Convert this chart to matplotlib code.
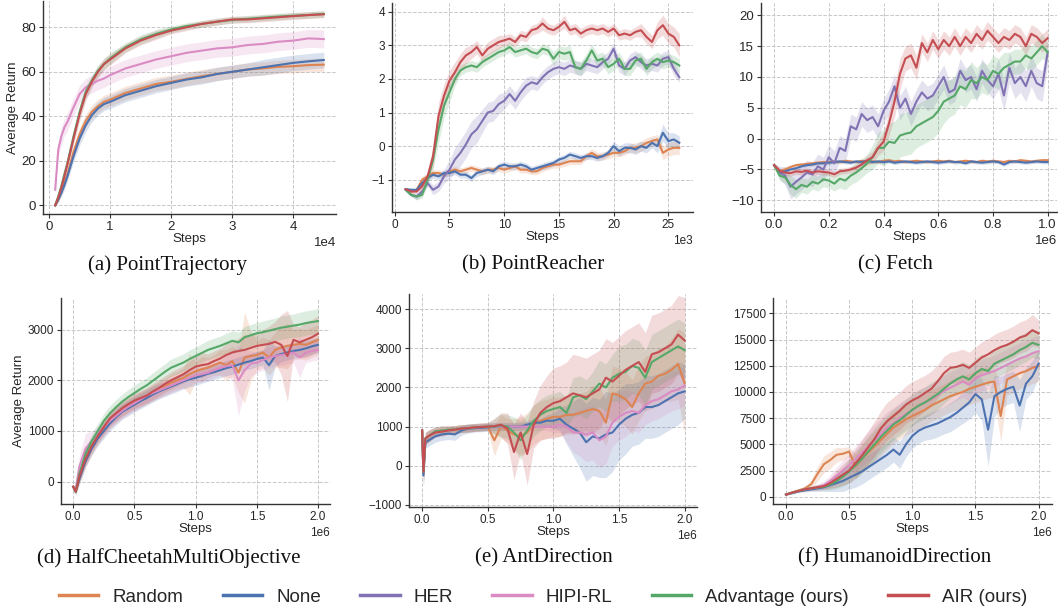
import matplotlib.pyplot as plt
import numpy as np
from matplotlib.lines import Line2D
from matplotlib.ticker import MultipleLocator

plt.rcParams['font.family'] = ['Liberation Sans', 'DejaVu Sans']

methods = ['Random', 'None', 'HER', 'HIPI-RL', 'Advantage (ours)', 'AIR (ours)']
colors = {'Random': '#DD8452', 'None': '#4C72B0', 'HER': '#8172B3',
          'HIPI-RL': '#DA8BC3', 'Advantage (ours)': '#55A868', 'AIR (ours)': '#C44E52'}

# ---------------- (a) PointTrajectory ----------------
x_a = [1000, 1500, 2000, 2500, 3000, 4000, 5000, 6000, 7000, 8000, 9000, 10000, 12500,
       15000, 17500, 20000, 22500, 25000, 27500, 30000, 32500, 35000, 37500, 40000, 42500, 45000]
rand_a = [0, 2.5, 6, 10, 14, 24, 32, 38, 42, 44.5, 46.5, 47.5, 50.5, 52.5, 54.5, 55.5, 56.8,
          58, 59, 60, 61, 61.5, 62.2, 62.5, 63, 63.2]
none_a = [0, 2.5, 5.5, 9, 13, 22, 30, 36, 40.5, 43.5, 45.5, 46.5, 49.5, 51.5, 53.5, 55, 56.5,
          57.5, 59, 60, 61, 62, 63, 64, 64.7, 65.3]
hipi_a = [7, 25, 31, 35, 37.5, 44, 50, 53, 54.5, 56, 57, 58.5, 61.5, 63.5, 65.5, 67, 68.5,
          69.5, 70.5, 71, 72, 72.5, 73.5, 74, 75, 74.7]
adv_a = [0, 4, 8.5, 14, 19, 31, 42, 51, 56, 60.5, 63.5, 66, 71, 74.5, 77, 79, 80.5, 81.5,
         82.5, 83.3, 83.8, 84.3, 84.8, 85.2, 85.5, 86]
air_a = [0, 3.5, 8, 13, 18.5, 30, 41, 50, 55.5, 60, 63.5, 65.5, 70.5, 74, 76.5, 78.5, 80,
         81.5, 82.5, 83.5, 83.5, 84, 84.5, 85, 85.5, 85.8]
sd_rand_a = [0.5, 1, 1.5, 2, 2, 2.5, 3, 3, 3, 3, 3, 3, 3, 3, 3, 3, 3, 3, 3, 3, 3, 3, 3, 3, 3, 3]
sd_none_a = [0.5, 1, 1.5, 2, 2, 2.5, 3, 3, 3, 3, 3, 3, 3, 3, 3, 3, 3, 3, 3, 3, 3, 3.5, 3.5, 3.5, 3.5, 3.5]
sd_hipi_a = [1, 3, 4, 4, 4, 4, 4, 4, 4, 4, 4, 4, 4, 4, 4, 4, 4, 4, 4, 4, 4, 4, 4, 4, 4, 4]
sd_adv_a = [0.5, 1, 1.5, 2, 2, 2.5, 3, 3, 2.5, 2.5, 2.5, 2.5, 2, 2, 2, 1.5, 1.5, 1.5, 1.5,
            1.5, 1.5, 1.5, 1.5, 1.5, 1.5, 1.5]
sd_air_a = [0.5, 1, 1.5, 2, 2, 2.5, 3, 3, 2.5, 2.5, 2.5, 2.5, 2, 2, 2, 1.5, 1.5, 1.5, 1.5,
            1.5, 1.5, 1.5, 1.5, 1.5, 1.5, 1.5]

# ---------------- (b) PointReacher ----------------
x_b = np.arange(1000, 26001, 500)
rand_b = [-1.28, -1.35, -1.3, -1.0, -0.9, -0.8, -0.8, -0.85, -0.75, -0.7, -0.75, -0.7, -0.65,
          -0.7, -0.75, -0.7, -0.7, -0.65, -0.7, -0.65, -0.6, -0.7, -0.7, -0.75, -0.75, -0.65,
          -0.6, -0.55, -0.55, -0.5, -0.45, -0.45, -0.45, -0.3, -0.2, -0.3, -0.3, -0.25, -0.2,
          -0.2, -0.15, -0.05, -0.05, 0.0, 0.1, 0.15, 0.2, -0.2, -0.1, -0.05, -0.05]
none_b = [-1.28, -1.3, -1.3, -1.1, -0.95, -0.85, -0.9, -0.8, -0.8, -0.75, -0.85, -0.85, -0.95,
          -0.8, -0.75, -0.7, -0.75, -0.6, -0.55, -0.6, -0.6, -0.55, -0.6, -0.7, -0.65, -0.6,
          -0.55, -0.5, -0.4, -0.35, -0.25, -0.3, -0.35, -0.3, -0.3, -0.35, -0.3, -0.2, 0.0,
          -0.15, -0.05, -0.05, -0.1, 0.0, -0.05, 0.1, 0.0, 0.4, 0.15, 0.2, 0.1]
her_b = [-1.3, -1.45, -1.5, -1.35, -1.1, -1.3, -1.2, -0.9, -0.7, -0.4, -0.2, 0.05, 0.35, 0.5,
         0.75, 1.0, 1.05, 1.25, 1.35, 1.55, 1.35, 1.6, 1.8, 1.9, 1.85, 2.05, 2.2, 2.3, 2.35,
         2.3, 2.4, 2.35, 2.3, 2.45, 2.4, 2.35, 2.5, 2.6, 2.9, 2.4, 2.3, 2.55, 2.65, 2.5, 2.4,
         2.45, 2.4, 2.6, 2.65, 2.3, 2.05]
adv_b = [-1.3, -1.45, -1.5, -1.45, -1.0, -0.4, 0.5, 1.2, 1.6, 2.0, 2.25, 2.35, 2.4, 2.35, 2.5,
         2.6, 2.7, 2.8, 2.85, 2.95, 2.8, 2.85, 2.9, 2.8, 2.75, 2.9, 2.85, 2.6, 2.8, 2.75, 2.8,
         2.35, 2.3, 2.55, 2.85, 2.55, 2.6, 2.35, 2.45, 2.6, 2.3, 2.3, 2.55, 2.6, 2.3, 2.5, 2.6,
         2.5, 2.55, 2.5, 2.4]
air_b = [-1.28, -1.35, -1.35, -1.2, -0.9, -0.3, 0.9, 1.5, 1.95, 2.2, 2.5, 2.7, 2.8, 2.95, 2.7,
         2.9, 3.0, 3.1, 3.15, 3.2, 3.1, 3.3, 3.25, 3.45, 3.5, 3.65, 3.5, 3.45, 3.55, 3.7, 3.45,
         3.5, 3.35, 3.45, 3.5, 3.45, 3.5, 3.4, 3.5, 3.3, 3.35, 3.3, 3.4, 3.45, 3.25, 3.1, 3.45,
         3.6, 3.35, 3.25, 3.0]
sd_rand_b = [0.05, 0.05, 0.05, 0.1, 0.1, 0.1, 0.1, 0.1, 0.1, 0.1, 0.1, 0.1, 0.1, 0.1, 0.1, 0.1,
             0.1, 0.1, 0.1, 0.1, 0.1, 0.1, 0.1, 0.1, 0.1, 0.1, 0.1, 0.1, 0.1, 0.1, 0.1, 0.1, 0.1,
             0.1, 0.12, 0.12, 0.12, 0.12, 0.12, 0.12, 0.12, 0.12, 0.15, 0.15, 0.15, 0.15, 0.15,
             0.2, 0.2, 0.2, 0.2]
sd_none_b = [0.05, 0.05, 0.05, 0.1, 0.1, 0.1, 0.1, 0.1, 0.1, 0.1, 0.1, 0.1, 0.1, 0.1, 0.1, 0.1,
             0.1, 0.1, 0.1, 0.1, 0.1, 0.1, 0.1, 0.1, 0.1, 0.1, 0.1, 0.1, 0.1, 0.1, 0.1, 0.1, 0.1,
             0.1, 0.1, 0.1, 0.1, 0.1, 0.15, 0.15, 0.15, 0.15, 0.15, 0.15, 0.15, 0.15, 0.2, 0.25,
             0.25, 0.2, 0.2]
sd_her_b = [0.05, 0.05, 0.1, 0.1, 0.1, 0.15, 0.15, 0.2, 0.3, 0.35, 0.4, 0.4, 0.4, 0.4, 0.35,
            0.3, 0.3, 0.3, 0.25, 0.25, 0.25, 0.25, 0.25, 0.2, 0.2, 0.2, 0.2, 0.2, 0.2, 0.2, 0.2,
            0.2, 0.2, 0.2, 0.2, 0.2, 0.2, 0.2, 0.2, 0.2, 0.2, 0.2, 0.2, 0.2, 0.2, 0.2, 0.2, 0.2,
            0.2, 0.2, 0.15]
sd_adv_b = [0.05, 0.05, 0.1, 0.1, 0.15, 0.3, 0.4, 0.35, 0.3, 0.2, 0.15, 0.15, 0.15, 0.15, 0.15,
            0.15, 0.15, 0.15, 0.15, 0.15, 0.15, 0.15, 0.15, 0.15, 0.15, 0.15, 0.15, 0.2, 0.2,
            0.2, 0.2, 0.2, 0.2, 0.2, 0.2, 0.2, 0.2, 0.2, 0.2, 0.2, 0.2, 0.2, 0.2, 0.2, 0.2, 0.2,
            0.2, 0.2, 0.2, 0.2, 0.2]
sd_air_b = [0.05, 0.05, 0.05, 0.1, 0.15, 0.3, 0.4, 0.35, 0.3, 0.3, 0.25, 0.25, 0.2, 0.2, 0.2,
            0.2, 0.2, 0.2, 0.15, 0.15, 0.15, 0.15, 0.15, 0.15, 0.15, 0.2, 0.15, 0.15, 0.15, 0.2,
            0.15, 0.15, 0.15, 0.15, 0.15, 0.15, 0.15, 0.15, 0.15, 0.15, 0.15, 0.15, 0.15, 0.2,
            0.2, 0.2, 0.25, 0.3, 0.3, 0.3, 0.35]

# ---------------- (c) Fetch ----------------
x_c = np.arange(51) * 20000
rand_c = [-4.3, -5.3, -5.0, -4.6, -4.3, -4.2, -4.1, -4.0, -3.9, -3.8, -3.8, -3.7, -3.8, -3.6,
          -3.7, -3.8, -3.6, -3.7, -3.7, -3.8, -3.6, -3.5, -3.7, -3.6, -3.8, -3.7, -3.6, -3.7,
          -3.8, -3.7, -3.6, -3.7, -3.6, -3.8, -3.7, -3.6, -3.7, -3.8, -3.6, -3.7, -3.6, -3.7,
          -3.8, -3.6, -3.7, -3.5, -3.6, -3.7, -3.6, -3.5, -3.5]
none_c = [-4.3, -5.5, -5.3, -5.0, -4.8, -4.5, -4.3, -4.2, -4.0, -4.0, -3.9, -3.8, -3.7, -3.8,
          -3.9, -3.7, -3.8, -3.6, -3.8, -3.7, -3.8, -3.7, -3.9, -3.8, -3.7, -3.8, -3.9, -3.8,
          -3.7, -3.8, -3.9, -3.8, -3.7, -3.8, -3.8, -4.0, -3.7, -3.8, -3.9, -3.8, -3.7, -3.8,
          -4.2, -3.8, -3.7, -3.8, -3.9, -3.8, -3.7, -3.8, -3.8]
her_c = [-4.3, -5.5, -6.0, -7.8, -7.0, -6.3, -5.5, -5.8, -4.5, -5.0, -3.0, -4.0, -1.5, -2.0,
         2.0, 1.5, 4.0, 3.0, 3.5, 2.0, 4.5, 6.0, 8.5, 5.0, 6.5, 4.0, 6.0, 7.5, 6.5, 7.0, 8.5,
         10.0, 7.5, 8.0, 11.0, 9.5, 10.0, 8.0, 11.0, 9.5, 8.5, 10.5, 7.0, 11.5, 9.0, 10.0, 8.5,
         11.0, 9.0, 8.5, 14.0]
adv_c = [-4.3, -6.0, -6.3, -7.5, -8.2, -7.5, -7.8, -7.0, -7.3, -6.6, -6.8, -7.3, -6.5, -6.8,
         -6.0, -5.5, -4.8, -4.0, -3.0, -1.5, -1.5, -0.5, -0.7, 0.5, 0.8, 1.0, 2.0, 2.5, 3.0,
         3.5, 4.5, 6.0, 6.5, 7.0, 8.5, 8.0, 9.5, 9.0, 10.0, 9.5, 11.0, 10.5, 11.5, 12.0, 12.5,
         12.5, 13.5, 13.0, 14.0, 15.0, 14.0]
air_c = [-4.3, -5.2, -5.5, -5.6, -5.3, -5.4, -5.2, -5.5, -5.3, -5.4, -5.5, -5.8, -5.3, -5.2,
         -5.0, -4.7, -4.2, -3.5, -3.0, -1.5, -0.5, 2.5, 6.0, 10.5, 13.0, 13.5, 11.5, 15.5,
         14.0, 16.0, 14.5, 16.0, 15.0, 16.5, 15.0, 16.5, 15.5, 17.0, 16.0, 17.5, 16.5, 15.5,
         16.5, 16.0, 17.0, 16.5, 15.0, 17.0, 16.5, 15.5, 16.3]
sd_flat_c = [0.2, 0.4, 0.4, 0.3, 0.3, 0.3, 0.3, 0.3, 0.3, 0.3, 0.3, 0.3, 0.3, 0.3, 0.3, 0.3,
             0.3, 0.3, 0.3, 0.3, 0.3, 0.3, 0.3, 0.3, 0.3, 0.3, 0.3, 0.3, 0.3, 0.3, 0.3, 0.3, 0.3,
             0.3, 0.3, 0.3, 0.3, 0.3, 0.3, 0.3, 0.3, 0.3, 0.3, 0.3, 0.3, 0.3, 0.3, 0.3, 0.3, 0.3, 0.3]
sd_her_c = [0.3, 1.0, 1.5, 2.0, 2.0, 2.0, 2.0, 2.0, 2.0, 2.0, 2.0, 2.0, 2.0, 2.0, 2.0, 2.0,
            2.0, 2.0, 2.0, 2.0, 2.0, 2.0, 2.0, 2.0, 2.0, 2.0, 2.0, 2.0, 2.0, 2.0, 2.0, 2.0, 2.0,
            2.0, 2.0, 2.0, 2.0, 2.0, 2.0, 2.0, 2.0, 2.5, 2.5, 2.5, 2.5, 2.5, 2.5, 2.5, 2.5, 2.5, 2.0]
sd_adv_c = [0.3, 0.8, 1.0, 1.5, 1.5, 1.2, 1.2, 1.2, 1.2, 1.2, 1.2, 1.2, 1.5, 1.5, 1.5, 1.5,
            1.5, 1.5, 2.0, 2.5, 3.0, 3.0, 3.5, 3.5, 3.5, 3.5, 3.5, 3.5, 3.5, 3.5, 3.5, 3.5, 3.0,
            3.0, 3.0, 3.0, 3.0, 2.5, 2.5, 2.5, 2.5, 2.5, 2.5, 2.0, 2.0, 2.0, 2.0, 2.0, 2.0, 2.0, 1.5]
sd_air_c = [0.3, 0.5, 0.5, 0.5, 0.5, 0.5, 0.5, 0.5, 0.5, 0.5, 0.5, 0.5, 0.5, 0.5, 0.5, 0.6,
            0.6, 0.8, 1.0, 1.2, 1.5, 2.0, 2.5, 2.5, 2.0, 2.0, 2.0, 1.5, 1.5, 1.5, 1.5, 1.5, 1.5,
            1.5, 1.5, 1.5, 1.5, 1.5, 1.5, 1.5, 1.5, 1.5, 1.5, 1.5, 1.5, 1.5, 1.5, 1.5, 1.5, 1.5, 1.5]

# ---------------- (d) HalfCheetahMultiObjective ----------------
x_d = np.r_[0, 20000, np.arange(1, 41) * 50000]
rand_d = [-100, -200, 50, 400, 650, 870, 1050, 1200, 1320, 1420, 1500, 1560, 1620, 1680, 1750,
          1820, 1880, 1950, 2000, 2050, 2120, 2180, 2220, 2250, 2300, 2350, 2300, 2380, 2150,
          2450, 2480, 2500, 2550, 2450, 2600, 2650, 2680, 2700, 2720, 2700, 2750, 2800]
none_d = [-100, -200, 50, 400, 650, 850, 1000, 1150, 1270, 1380, 1450, 1520, 1590, 1650, 1720,
          1780, 1830, 1880, 1930, 1980, 2020, 2050, 2090, 2130, 2160, 2200, 2240, 2270, 2310,
          2350, 2380, 2420, 2450, 2300, 2480, 2520, 2550, 2580, 2600, 2630, 2670, 2700]
hipi_d = [-100, -150, 300, 650, 800, 950, 1080, 1200, 1300, 1400, 1480, 1550, 1620, 1700, 1750,
          1800, 1850, 1900, 1950, 2000, 2050, 2100, 2120, 2150, 2200, 2250, 2280, 2300, 2000,
          2200, 2330, 2350, 2400, 2450, 2480, 2500, 2520, 2550, 2450, 2550, 2580, 2600]
adv_d = [-100, -200, 150, 550, 800, 1000, 1200, 1350, 1470, 1580, 1670, 1750, 1830, 1900, 1990,
         2080, 2170, 2250, 2300, 2350, 2420, 2480, 2540, 2600, 2640, 2680, 2730, 2780, 2750,
         2850, 2890, 2930, 2950, 2980, 3010, 3040, 3060, 3080, 3100, 3130, 3150, 3170]
air_d = [-100, -200, 100, 450, 700, 900, 1080, 1250, 1350, 1450, 1530, 1600, 1650, 1700, 1780,
         1850, 1930, 2000, 2060, 2120, 2200, 2270, 2300, 2320, 2380, 2430, 2500, 2550, 2580,
         2600, 2640, 2680, 2700, 2720, 2760, 2700, 2480, 2800, 2750, 2800, 2850, 2920]
sd_rand_d = [30, 50, 100, 120, 130, 140, 150, 150, 150, 150, 150, 150, 150, 150, 160, 160, 160,
             170, 170, 200, 400, 200, 250, 200, 200, 250, 300, 300, 400, 900, 500, 300, 300, 350,
             350, 400, 450, 300, 300, 300, 300, 300]
sd_none_d = [30, 50, 100, 120, 130, 140, 150, 150, 150, 150, 150, 150, 150, 150, 150, 150, 150,
             150, 150, 150, 150, 150, 150, 150, 150, 150, 150, 150, 150, 150, 150, 150, 150, 500,
             200, 150, 150, 150, 150, 150, 150, 150]
sd_hipi_d = [30, 50, 200, 300, 200, 150, 150, 150, 150, 150, 150, 150, 150, 150, 150, 150, 150,
             150, 150, 150, 150, 150, 150, 150, 150, 150, 200, 300, 700, 400, 250, 200, 200, 200,
             200, 200, 200, 200, 400, 200, 200, 200]
sd_adv_d = [30, 50, 100, 120, 130, 140, 150, 150, 150, 150, 150, 150, 150, 150, 160, 160, 160,
            170, 170, 170, 180, 180, 180, 190, 190, 190, 200, 200, 200, 210, 210, 210, 220, 220,
            220, 230, 230, 230, 240, 240, 240, 250]
sd_air_d = [30, 50, 100, 120, 130, 140, 150, 150, 150, 150, 150, 150, 150, 150, 160, 160, 160,
            170, 170, 170, 180, 200, 250, 200, 200, 200, 220, 220, 250, 300, 250, 250, 300, 350,
            400, 600, 900, 300, 300, 350, 350, 350]

# ---------------- (e) AntDirection ----------------
x_e = np.r_[0, 10000, 25000, np.arange(1, 41) * 50000]
rand_e = [900, -200, 700, 760, 870, 900, 920, 930, 950, 960, 980, 990, 1000, 650, 1000, 900,
          800, 750, 850, 1050, 1150, 1200, 1250, 1250, 1300, 1300, 1350, 1400, 1450, 1400, 1100,
          1850, 1800, 1700, 1500, 1850, 2100, 2150, 2300, 2350, 2450, 2600, 2100]
none_e = [900, -250, 600, 650, 750, 800, 820, 800, 900, 950, 960, 970, 980, 1000, 1000, 1000,
          1000, 1000, 1050, 1100, 1100, 1150, 1150, 1200, 1050, 950, 850, 600, 750, 700, 800,
          850, 1050, 1200, 1300, 1350, 1500, 1500, 1550, 1650, 1750, 1850, 1900]
hipi_e = [900, -100, 700, 760, 880, 900, 920, 930, 950, 960, 980, 990, 1000, 1000, 1000, 1000,
          1000, 1000, 1000, 1000, 1000, 1000, 1000, 1050, 1000, 850, 850, 800, 850, 650, 750,
          1100, 1250, 1350, 1400, 1350, 1550, 1650, 1700, 1800, 1900, 1950, 2050]
adv_e = [900, -150, 700, 760, 880, 900, 920, 930, 950, 960, 980, 990, 1000, 1000, 1030, 1000,
         850, 650, 900, 1150, 1300, 1400, 1450, 1500, 1350, 1750, 1800, 1700, 1900, 2100, 2000,
         2250, 2350, 2400, 2550, 2500, 2250, 2650, 2750, 2850, 2950, 3050, 2950]
air_e = [900, -150, 700, 760, 850, 870, 900, 920, 950, 960, 980, 990, 1000, 1010, 1050, 950,
         350, 850, 300, 1050, 1350, 1500, 1600, 1650, 1750, 1850, 1800, 1750, 1850, 1950, 2250,
         2150, 2300, 2450, 2550, 2650, 2400, 2850, 2900, 3000, 3100, 3350, 3200]
sd_rand_e = [50, 300, 150, 150, 120, 120, 100, 100, 100, 100, 100, 100, 100, 400, 300, 300, 400,
             500, 500, 500, 500, 500, 500, 500, 500, 500, 500, 500, 600, 600, 600, 700, 700, 700,
             700, 700, 700, 700, 700, 700, 800, 900, 1300]
sd_none_e = [50, 300, 150, 150, 150, 150, 150, 150, 120, 120, 100, 100, 100, 100, 100, 100, 100,
             100, 100, 100, 100, 150, 200, 300, 500, 700, 900, 1000, 1000, 1000, 1100, 1000, 900,
             900, 800, 800, 800, 800, 800, 800, 800, 800, 700]
sd_hipi_e = [50, 300, 150, 150, 120, 120, 100, 100, 100, 100, 100, 100, 100, 100, 100, 100, 100,
             100, 100, 100, 100, 100, 150, 200, 400, 500, 600, 700, 700, 700, 700, 600, 600, 600,
             500, 500, 500, 500, 500, 500, 500, 500, 500]
sd_adv_e = [50, 300, 150, 150, 120, 120, 100, 100, 100, 100, 100, 100, 100, 200, 300, 300, 400,
            500, 400, 400, 400, 400, 400, 400, 400, 500, 500, 500, 500, 600, 600, 600, 700, 700,
            700, 700, 700, 700, 700, 700, 700, 700, 700]
sd_air_e = [50, 300, 150, 150, 120, 120, 100, 100, 100, 100, 100, 100, 100, 200, 300, 400, 700,
            500, 800, 600, 700, 800, 900, 900, 900, 1000, 1000, 1000, 1000, 1000, 1000, 1000,
            1000, 1000, 1000, 1000, 1000, 1000, 1000, 1000, 1000, 1000, 1100]

# ---------------- (f) HumanoidDirection ----------------
x_f = np.arange(41) * 50000
rand_f = [200, 400, 600, 800, 1200, 2200, 3100, 3500, 4000, 4100, 4300, 2900, 3600, 4200, 4800,
          5400, 6000, 6600, 7000, 7400, 7700, 8000, 8300, 8700, 9000, 9300, 9600, 9800, 10000,
          10300, 10500, 10700, 10900, 11000, 7700, 11200, 11500, 11800, 12000, 12300, 12500]
none_f = [200, 350, 500, 600, 700, 800, 900, 1100, 1300, 1500, 1800, 2100, 2400, 2800, 3200,
          3600, 4000, 4500, 4000, 5000, 5800, 6300, 6600, 6800, 7000, 7300, 7600, 8000, 8500,
          9000, 9800, 9300, 6400, 9600, 10000, 10300, 10500, 8700, 10800, 11500, 12700]
hipi_f = [200, 400, 550, 700, 800, 900, 1100, 1500, 2000, 2500, 3000, 3600, 4200, 4800, 5400,
          6000, 6600, 7000, 7500, 7900, 8300, 8700, 9000, 9300, 9700, 10100, 10400, 10700, 11000,
          10700, 11300, 11600, 11800, 12000, 12300, 12600, 12900, 13200, 13400, 13700, 13900]
adv_f = [200, 400, 550, 700, 800, 880, 950, 1150, 1500, 1900, 2400, 3000, 3600, 4300, 5000,
         5700, 6300, 6900, 7300, 7800, 8300, 8700, 9000, 9400, 9800, 10300, 10800, 11200, 11500,
         11200, 11800, 12200, 12000, 12700, 13000, 13300, 13600, 14000, 14300, 14700, 14500]
air_f = [200, 400, 550, 700, 800, 900, 1000, 1300, 1700, 2100, 2500, 3200, 3900, 4700, 5500,
         6500, 7200, 7700, 8200, 8800, 9200, 9500, 9900, 10300, 11000, 11800, 12300, 12400,
         12600, 12300, 12800, 13300, 13600, 14000, 14300, 14500, 14800, 15200, 15400, 15900, 15600]
sd_rand_f = [50, 100, 100, 200, 400, 700, 800, 800, 700, 600, 500, 1200, 1300, 1400, 1500, 1500,
             1500, 1500, 1500, 1500, 1500, 1500, 1500, 1500, 1500, 1500, 1500, 1500, 1500, 1500,
             1500, 1500, 1500, 1500, 2500, 1500, 1500, 1500, 1500, 1500, 1500]
sd_none_f = [50, 100, 100, 150, 200, 300, 400, 600, 800, 1000, 1100, 1200, 1200, 1200, 1200, 1200,
             1200, 1200, 1300, 1200, 1200, 1200, 1200, 1300, 1300, 1300, 1400, 1400, 1500, 1600,
             1800, 2000, 3500, 2000, 1500, 1500, 1500, 2500, 1500, 1500, 1300]
sd_hipi_f = [50, 100, 100, 150, 200, 300, 400, 600, 800, 1000, 1100, 1200, 1300, 1400, 1500, 1500,
             1500, 1500, 1500, 1500, 1500, 1500, 1500, 1500, 1500, 1500, 1500, 1500, 1500, 1500,
             1500, 1500, 1500, 1500, 1500, 1500, 1500, 1500, 1500, 1500, 1500]
sd_adv_f = [50, 100, 100, 150, 200, 250, 300, 500, 700, 900, 1100, 1300, 1400, 1500, 1500, 1500,
            1500, 1500, 1500, 1500, 1500, 1500, 1500, 1500, 1500, 1400, 1400, 1400, 1400, 1400,
            1400, 1400, 1400, 1400, 1400, 1400, 1400, 1400, 1400, 1400, 1300]
sd_air_f = [50, 100, 100, 150, 200, 250, 300, 500, 800, 1000, 1200, 1400, 1500, 1600, 1700, 1700,
            1800, 1800, 1800, 1800, 1800, 1800, 1700, 1700, 1600, 1600, 1500, 1500, 1500, 1500,
            1500, 1500, 1500, 1500, 1500, 1500, 1500, 1500, 1500, 1500, 1300]

panels = [
    dict(x=x_a, caption='(a) PointTrajectory', ylabel=True,
         series=[('Random', rand_a, sd_rand_a), ('None', none_a, sd_none_a),
                 ('HIPI-RL', hipi_a, sd_hipi_a), ('Advantage (ours)', adv_a, sd_adv_a),
                 ('AIR (ours)', air_a, sd_air_a)]),
    dict(x=x_b, caption='(b) PointReacher', ylabel=False,
         series=[('Random', rand_b, sd_rand_b), ('None', none_b, sd_none_b),
                 ('HER', her_b, sd_her_b), ('Advantage (ours)', adv_b, sd_adv_b),
                 ('AIR (ours)', air_b, sd_air_b)]),
    dict(x=x_c, caption='(c) Fetch', ylabel=False,
         series=[('Random', rand_c, sd_flat_c), ('None', none_c, sd_flat_c),
                 ('HER', her_c, sd_her_c), ('Advantage (ours)', adv_c, sd_adv_c),
                 ('AIR (ours)', air_c, sd_air_c)]),
    dict(x=x_d, caption='(d) HalfCheetahMultiObjective', ylabel=True,
         series=[('Random', rand_d, sd_rand_d), ('None', none_d, sd_none_d),
                 ('HIPI-RL', hipi_d, sd_hipi_d), ('Advantage (ours)', adv_d, sd_adv_d),
                 ('AIR (ours)', air_d, sd_air_d)]),
    dict(x=x_e, caption='(e) AntDirection', ylabel=False,
         series=[('Random', rand_e, sd_rand_e), ('None', none_e, sd_none_e),
                 ('HIPI-RL', hipi_e, sd_hipi_e), ('Advantage (ours)', adv_e, sd_adv_e),
                 ('AIR (ours)', air_e, sd_air_e)]),
    dict(x=x_f, caption='(f) HumanoidDirection', ylabel=False,
         series=[('Random', rand_f, sd_rand_f), ('None', none_f, sd_none_f),
                 ('HIPI-RL', hipi_f, sd_hipi_f), ('Advantage (ours)', adv_f, sd_adv_f),
                 ('AIR (ours)', air_f, sd_air_f)]),
]

W, H = 1058, 609
fig = plt.figure(figsize=(W / 100, H / 100), dpi=100)

# axes boxes in pixels: left, top, right, bottom
boxes = [(43, 1, 336, 214), (392, 3, 693, 212), (761, 3, 1057, 212),
         (61, 298, 330, 504), (409, 294, 697, 507), (773, 298, 1052, 504)]
xlims = [(-1000, 47000), (-250, 27250), (-48000, 1034000),
         (-100000, 2098000), (-100000, 2094000), (-103000, 2106000)]
ylims = [(-3.9, 91.8), (-1.96, 4.26), (-11.9, 22.0),
         (-441, 3625), (-1054, 4388), (-700, 18980)]
ysteps = [20, 1, 5, 1000, 1000, 2500]
xsteps = [10000, 5000, 200000, 500000, 500000, 500000]
xpow = [4, 3, 6, 6, 6, 6]
tick_fs = [9.5, 8.5, 9.5, 8.5, 8.5, 8.5]
cap_pos = [(168, 265), (533, 265), (895, 265), (169, 558), (544, 558), (895, 558)]

for p, box, xl, yl, ys, xs, pw, fs, cp in zip(panels, boxes, xlims, ylims, ysteps, xsteps,
                                               xpow, tick_fs, cap_pos):
    l, t, r, b = box
    ax = fig.add_axes([l / W, 1 - b / H, (r - l) / W, (b - t) / H])
    x = np.asarray(p['x'], dtype=float)
    for name, y, sd in p['series']:
        y = np.asarray(y, dtype=float)
        sd = np.asarray(sd, dtype=float)
        ax.fill_between(x, y - sd, y + sd, color=colors[name], alpha=0.2, lw=0)
        ax.plot(x, y, color=colors[name], lw=1.5)
    ax.set_xlim(*xl)
    ax.set_ylim(*yl)
    ax.xaxis.set_major_locator(MultipleLocator(xs))
    ax.yaxis.set_major_locator(MultipleLocator(ys))
    ax.ticklabel_format(style='sci', axis='x', scilimits=(pw, pw))
    ax.xaxis.get_offset_text().set_fontsize(fs)
    ax.grid(True, ls='--', lw=0.7, color='#c8c8c8')
    ax.set_axisbelow(True)
    for s in ['top', 'right']:
        ax.spines[s].set_visible(False)
    for s in ['left', 'bottom']:
        ax.spines[s].set_color('#333333')
        ax.spines[s].set_linewidth(1.0)
    ax.tick_params(length=3, width=0.8, color='#333333', labelsize=fs, labelcolor='#262626', pad=2)
    ax.set_xlabel('Steps', fontsize=9.5, labelpad=0, color='#262626')
    if p['ylabel']:
        ax.set_ylabel('Average Return', fontsize=9.5, labelpad=2, color='#262626')
    fig.text(cp[0] / W, 1 - cp[1] / H, p['caption'], ha='center', va='center',
             fontsize=15, family=['Liberation Serif', 'DejaVu Serif'], color='#111111')

handles = [Line2D([], [], color=colors[m], lw=2.5) for m in methods]
fig.legend(handles, methods, loc='center', bbox_to_anchor=(543 / W, 1 - 597 / H), ncol=6,
           frameon=False, fontsize=13.5, handlelength=2.1, handletextpad=0.75,
           columnspacing=2.1, labelcolor='#262626')

fig.savefig('out.png', dpi=100)
